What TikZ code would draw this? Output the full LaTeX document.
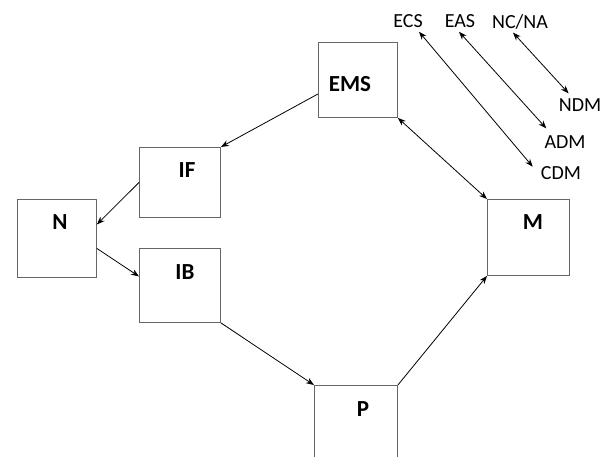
\documentclass[tikz,border=0pt]{standalone}
\usepackage{fontspec}
\setmainfont{Carlito}
\usetikzlibrary{arrows.meta,calc}
\begin{document}
\begin{tikzpicture}[x=1pt,y=-1pt,
  box/.style={draw=black!60,line width=0.9pt,rectangle,inner sep=0pt,anchor=north west},
  lbl/.style={inner sep=0pt,font=\fontsize{23}{27}\selectfont\bfseries},
  txt/.style={inner sep=0pt,font=\fontsize{20}{24}\selectfont},
  arr/.style={line width=0.8pt,-{Stealth[length=8pt,width=6pt]}},
  darr/.style={line width=0.8pt,{Stealth[length=8pt,width=6pt]}-{Stealth[length=8pt,width=6pt]}}]
\clip (0,0) rectangle (608,456);
\fill[white] (0,0) rectangle (608,456);
% boxes
\node[box,minimum width=79pt,minimum height=75pt] (ems) at (318,42) {};
\node[box,minimum width=81pt,minimum height=70pt] (if) at (139,147) {};
\node[box,minimum width=79pt,minimum height=78pt] (n) at (17,199) {};
\node[box,minimum width=81pt,minimum height=74pt] (ib) at (139,248) {};
\node[box,minimum width=82pt,minimum height=76pt] (m) at (487,199) {};
\node[box,minimum width=83pt,minimum height=90pt] (p) at (314,385) {};
% box labels
\node[lbl] (emsl) at (350,84.5) {EMS};
\node[lbl] (ifl) at (187,170) {IF};
\node[lbl] (nl) at (60,222) {N};
\node[lbl] (ibl) at (185,272) {IB};
\node[lbl] (ml) at (533,222) {M};
\node[lbl] (pl) at (363,409) {P};
% top texts
\node[txt] (ecs) at (408,21.5) {ECS};
\node[txt] (eas) at (460,21.5) {EAS};
\node[txt] (ncna) at (520,21.5) {NC/NA};
\node[txt] (ndm) at (580,105) {NDM};
\node[txt] (adm) at (565,142) {ADM};
\node[txt] (cdm) at (561,173.5) {CDM};
% connectors
\draw[arr] ([yshift=-14pt]ems.west) -- (if.north east);
\draw[arr] (if.west) -- ([yshift=14pt]n.east);
\draw[arr] ([yshift=-10pt]n.east) -- ([yshift=9pt]ib.west);
\draw[arr] (ib.south east) -- (p.north west);
\draw[arr] (p.north east) -- (m.south west);
\draw[darr] (ems.south east) -- (m.north west);
\draw[darr] ($(ecs.south)+(11,3.5)$) -- ($(cdm.north west)+(-8,0)$);
\draw[darr] ($(eas.south)+(-1,3.5)$) -- ($(adm.north west)+(2,-7)$);
\draw[darr] ($(ncna.south)+(-7,3.5)$) -- ($(ndm.north west)+(10,-5)$);
\end{tikzpicture}
\end{document}
